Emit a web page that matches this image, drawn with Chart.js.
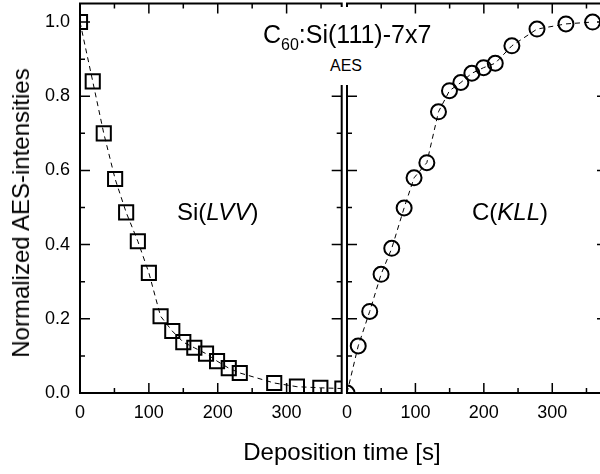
<!DOCTYPE html>
<html>
<head>
<meta charset="utf-8">
<script src="https://cdn.jsdelivr.net/npm/chart.js@4.4.1/dist/chart.umd.min.js"></script>
<style>
  html, body { margin: 0; padding: 0; background: #fff; overflow: hidden; }
  #wrap { position: relative; width: 620px; height: 474px; font-family: "Liberation Sans", Arial, sans-serif; color: #000; }
  #wrap canvas { position: absolute; left: 0; top: 0; }
  .lbl { position: absolute; white-space: nowrap; line-height: 1; }
  .sub { font-size: 16px; position: relative; top: 7px; }
  #aesBox { position: absolute; left: 326px; top: 7px; width: 40px; height: 78px; background: #fff; }
</style>
</head>
<body>
<div id="wrap">
  <canvas id="left" width="620" height="474"></canvas>
  <canvas id="right" width="620" height="474"></canvas>
  <div id="aesBox"></div>
  <div class="lbl" style="left:346px;top:58px;font-size:16px;transform:translateX(-50%)">AES</div>
  <div class="lbl" style="left:263px;top:22px;font-size:25px">C<span class="sub">60</span>:Si(111)-7x7</div>
  <div class="lbl" style="left:177px;top:200px;font-size:24px">Si(<i>LVV</i>)</div>
  <div class="lbl" style="left:472px;top:200px;font-size:24px">C(<i>KLL</i>)</div>
  <div class="lbl" style="left:21px;top:213px;font-size:24px;transform:translate(-50%,-50%) rotate(-90deg)">Normalized AES-intensities</div>
  <div class="lbl" style="left:342px;top:452px;font-size:24px;transform:translate(-50%,-50%)">Deposition time [s]</div>
</div>
<script>
// Si(LVV) - cuadrados, panel izquierdo
const siTime = [0, 18.5, 34.5, 51, 67, 84, 100, 117, 134, 150, 166, 183, 199, 216, 232, 282, 315, 349, 381];
const siLVV  = [1.0, 0.84, 0.70, 0.577, 0.487, 0.409, 0.324, 0.207, 0.167, 0.137, 0.122, 0.106, 0.086, 0.067, 0.054, 0.027, 0.017, 0.014, 0.012];

// C(KLL) - circulos, panel derecho
const cTime = [0, 16.4, 33.2, 49.8, 65.4, 83.5, 98, 116.7, 133.7, 149.8, 166.4, 182.5, 199.6, 216.7, 241, 277.7, 320, 359];
const cKLL  = [0, 0.127, 0.22, 0.32, 0.39, 0.499, 0.58, 0.621, 0.758, 0.815, 0.837, 0.862, 0.877, 0.889, 0.936, 0.981, 0.995, 1.0];

// ticks
const xMajor = [0, 100, 200, 300];
const xMinor = [50, 150, 250, 350];
const yMajor = [0, 0.2, 0.4, 0.6, 0.8, 1.0];
const yMinor = [0.1, 0.3, 0.5, 0.7, 0.9];

const FONT = "'Liberation Sans', Arial, sans-serif";

// marco + ticks hacia adentro
const frameTicks = {
  id: 'frameTicks',
  afterDatasetsDraw(chart) {
    const { ctx, chartArea: a, scales: { x, y } } = chart;
    ctx.save();
    ctx.strokeStyle = '#000';
    ctx.lineWidth = 2;
    ctx.strokeRect(a.left, a.top, a.right - a.left, a.bottom - a.top);
    ctx.lineWidth = 1.5;
    ctx.beginPath();
    const xt = (v, len) => {
      const p = x.getPixelForValue(v);
      ctx.moveTo(p, a.bottom); ctx.lineTo(p, a.bottom - len);
      ctx.moveTo(p, a.top); ctx.lineTo(p, a.top + len);
    };
    const yt = (v, len) => {
      const p = y.getPixelForValue(v);
      ctx.moveTo(a.left, p); ctx.lineTo(a.left + len, p);
      ctx.moveTo(a.right, p); ctx.lineTo(a.right - len, p);
    };
    xMajor.forEach(v => xt(v, 10));
    xMinor.forEach(v => xt(v, 5));
    yMajor.forEach(v => yt(v, 10));
    yMinor.forEach(v => yt(v, 5));
    ctx.stroke();
    ctx.restore();
  }
};

// quitar el relleno automatico de las escalas
function noPad(s) {
  s.paddingTop = 0; s.paddingBottom = 0;
  s.paddingLeft = 0; s.paddingRight = 0;
}

function makeChart(id, xs, ys, style, radius, padRight, yWidth, showY) {
  const ctx = document.getElementById(id).getContext('2d');
  return new Chart(ctx, {
    type: 'scatter',
    data: {
      datasets: [{
        data: xs.map((t, i) => ({ x: t, y: ys[i] })),
        showLine: true,
        borderColor: '#000',
        borderWidth: 1,
        borderDash: [5, 4],
        pointStyle: style,
        pointRadius: radius,
        pointHoverRadius: radius,
        pointBorderWidth: 2,
        pointBorderColor: '#000',
        pointBackgroundColor: 'rgba(0,0,0,0)',
        clip: 0
      }]
    },
    options: {
      responsive: false,
      animation: false,
      events: [],
      layout: { autoPadding: false, padding: { left: 0, right: padRight, top: 3.5, bottom: 0 } },
      plugins: { legend: { display: false }, tooltip: { enabled: false } },
      scales: {
        x: {
          type: 'linear', min: 0, max: 380,
          grid: { display: false, drawTicks: false },
          border: { display: false },
          afterBuildTicks: s => { s.ticks = xMajor.map(v => ({ value: v })); },
          afterFit: s => { s.height = 81; noPad(s); },
          ticks: {
            color: '#000', padding: 9, maxRotation: 0, autoSkip: false,
            font: { family: FONT, size: 18 },
            callback: v => String(v)
          }
        },
        y: {
          type: 'linear', min: 0, max: 1.05,
          grid: { display: false, drawTicks: false },
          border: { display: false },
          afterBuildTicks: s => { s.ticks = yMajor.map(v => ({ value: v })); },
          afterFit: s => { s.width = yWidth; noPad(s); },
          ticks: {
            display: showY,
            color: '#000', padding: 10,
            font: { family: FONT, size: 18 },
            callback: v => Number(v).toFixed(1)
          }
        }
      }
    },
    plugins: [frameTicks]
  });
}

makeChart('left', siTime, siLVV, 'rect', 10, 620 - 341.7, 80, true);
makeChart('right', cTime, cKLL, 'circle', 7.5, 620 - 607, 347, false);
</script>
</body>
</html>
